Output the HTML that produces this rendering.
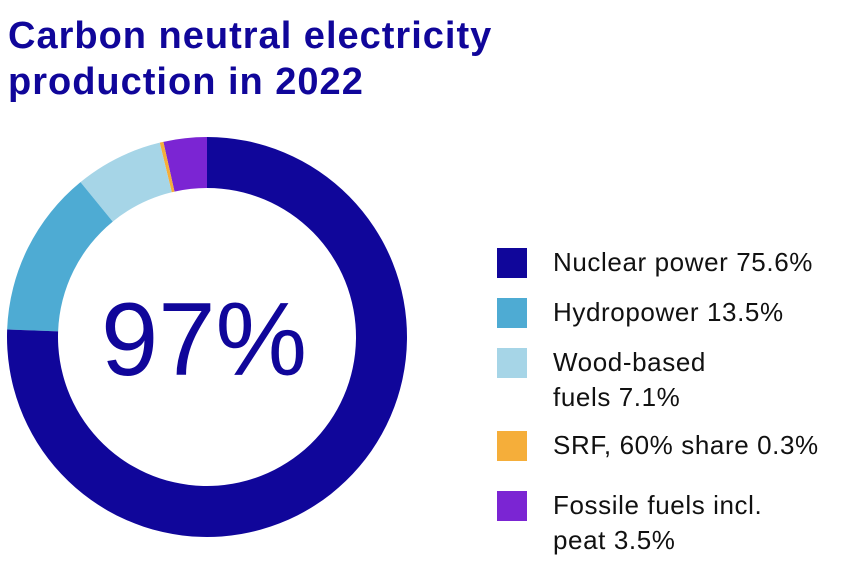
<!DOCTYPE html>
<html><head><meta charset="utf-8"><style>
body{margin:0;width:852px;height:566px;background:#fff;font-family:"Liberation Sans",sans-serif;overflow:hidden;position:relative}
h1{position:absolute;left:8px;top:13px;margin:0;font-size:38px;line-height:46px;font-weight:900;color:#10069a;letter-spacing:1px}
.leg{position:absolute;left:497px;display:flex;align-items:flex-start}
.sw{width:30px;height:30px;flex:none;margin-top:3px}
.lt{margin-left:26px;font-size:26px;line-height:35px;color:#111;letter-spacing:0.6px;white-space:nowrap}
</style></head><body>
<h1>Carbon neutral electricity<br>production in 2022</h1>
<svg id="c" width="852" height="566" style="position:absolute;left:0;top:0">
<text x="204" y="375" text-anchor="middle" font-size="104" textLength="206" lengthAdjust="spacingAndGlyphs" fill="#10069a" font-family="Liberation Sans, sans-serif">97%</text>
</svg>
<div class="leg" style="top:245px"><div class="sw" style="background:#10069a"></div><div class="lt">Nuclear power 75.6%</div></div>
<div class="leg" style="top:295px"><div class="sw" style="background:#4eabd3"></div><div class="lt">Hydropower 13.5%</div></div>
<div class="leg" style="top:345px"><div class="sw" style="background:#a6d5e7"></div><div class="lt">Wood-based<br>fuels 7.1%</div></div>
<div class="leg" style="top:428px"><div class="sw" style="background:#f5ae3a"></div><div class="lt">SRF, 60% share 0.3%</div></div>
<div class="leg" style="top:488px"><div class="sw" style="background:#7b25d3"></div><div class="lt">Fossile fuels incl.<br>peat 3.5%</div></div>
<script>
const categories=["Nuclear power","Hydropower","Wood-based fuels","SRF, 60% share","Fossile fuels incl. peat"];
const values=[75.6,13.5,7.1,0.3,3.5];
const colors=["#10069a","#4eabd3","#a6d5e7","#f5ae3a","#7b25d3"];
const cx=207,cy=337,ro=200,ri=149;
const svg=document.getElementById('c');
const total=values.reduce((a,b)=>a+b,0);
let acc=0;
function pt(r,f){const a=f*2*Math.PI-Math.PI/2;return [cx+r*Math.cos(a),cy+r*Math.sin(a)];}
values.forEach((v,i)=>{
const f0=acc/total,f1=(acc+v)/total;acc+=v;
const lg=(f1-f0)>0.5?1:0;
const [x0,y0]=pt(ro,f0),[x1,y1]=pt(ro,f1),[x2,y2]=pt(ri,f1),[x3,y3]=pt(ri,f0);
const p=document.createElementNS("http://www.w3.org/2000/svg","path");
p.setAttribute("d",`M${x0},${y0}A${ro},${ro} 0 ${lg} 1 ${x1},${y1}L${x2},${y2}A${ri},${ri} 0 ${lg} 0 ${x3},${y3}Z`);
p.setAttribute("fill",colors[i]);


svg.insertBefore(p,svg.firstChild);
});
</script>
</body></html>
